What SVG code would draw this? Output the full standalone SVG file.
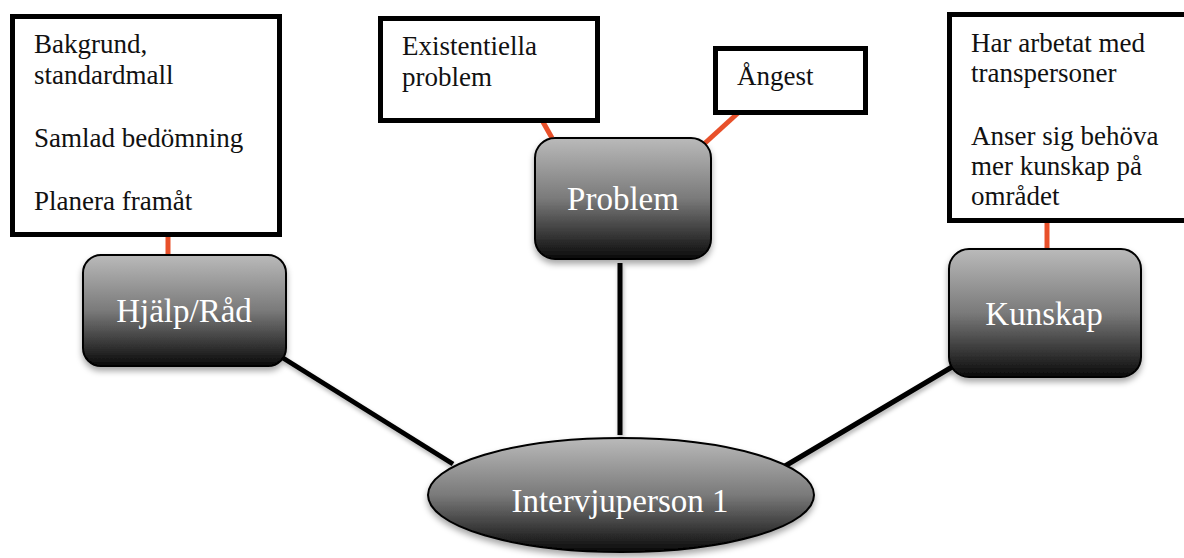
<svg xmlns="http://www.w3.org/2000/svg" width="1184" height="558" viewBox="0 0 1184 558">
<defs>
<linearGradient id="g" x1="0" y1="0" x2="0" y2="1">
<stop offset="0" stop-color="#bababa"/>
<stop offset="0.5" stop-color="#7a7a7a"/>
<stop offset="1" stop-color="#0a0a0a"/>
</linearGradient>
<filter id="sh" x="-20%" y="-20%" width="140%" height="150%">
<feDropShadow dx="0" dy="4" stdDeviation="3" flood-color="#000" flood-opacity="0.35"/>
</filter>
<filter id="lsh" filterUnits="userSpaceOnUse" x="0" y="0" width="1184" height="558">
<feDropShadow dx="1" dy="3" stdDeviation="2" flood-color="#000" flood-opacity="0.3"/>
</filter>
</defs>
<style>
.box{fill:#fff;stroke:#000;stroke-width:5}
.t{font-family:"Liberation Serif","Times New Roman",serif;font-size:27px;fill:#111}
.node{fill:url(#g);stroke:#000;stroke-width:2;filter:url(#sh)}
.nt{font-family:"Liberation Serif","Times New Roman",serif;font-size:33px;fill:#fff;text-anchor:middle}
.bl{stroke:#000;stroke-width:5;fill:none}
.or{stroke:#e8502a;stroke-width:5;fill:none}
</style>
<rect width="1184" height="558" fill="#fff"/>
<g id="connectors">
<g filter="url(#lsh)">
<line class="bl" x1="283" y1="358" x2="453" y2="464"/>
<line class="bl" x1="620" y1="263" x2="620" y2="435"/>
<line class="bl" x1="952" y1="367" x2="785" y2="466"/>
</g>
<line class="or" x1="168" y1="236" x2="168" y2="255"/>
<line class="or" x1="543" y1="122" x2="552" y2="138"/>
<line class="or" x1="738" y1="113" x2="704" y2="144"/>
<line class="or" x1="1047" y1="222" x2="1047" y2="249"/>
</g>
<g id="box-hjalp">
<rect class="box" x="12.5" y="16.5" width="267" height="218"/>
<text class="t" x="34" y="53">Bakgrund,</text>
<text class="t" x="34" y="84">standardmall</text>
<text class="t" x="34" y="147">Samlad bedömning</text>
<text class="t" x="34" y="210">Planera framåt</text>
</g>
<g id="box-existentiella">
<rect class="box" x="380.5" y="18.5" width="217" height="102"/>
<text class="t" x="402" y="55">Existentiella</text>
<text class="t" x="402" y="86">problem</text>
</g>
<g id="box-angest">
<rect class="box" x="715.5" y="48.5" width="150" height="64"/>
<text class="t" x="737" y="85">Ångest</text>
</g>
<g id="box-kunskap">
<rect class="box" x="949.5" y="14.5" width="260" height="206"/>
<text class="t" x="971" y="52">Har arbetat med</text>
<text class="t" x="971" y="82">transpersoner</text>
<text class="t" x="971" y="145">Anser sig behöva</text>
<text class="t" x="971" y="175">mer kunskap på</text>
<text class="t" x="971" y="205">området</text>
</g>
<g id="node-hjalp">
<rect class="node" x="83" y="255" width="203" height="111" rx="18"/>
<text class="nt" x="184" y="322">Hjälp/Råd</text>
</g>
<g id="node-problem">
<rect class="node" x="535" y="138" width="176" height="121" rx="20"/>
<text class="nt" x="623" y="210">Problem</text>
</g>
<g id="node-kunskap">
<rect class="node" x="949" y="249" width="192" height="128" rx="20"/>
<text class="nt" x="1044" y="325">Kunskap</text>
</g>
<g id="node-intervjuperson">
<ellipse class="node" cx="621" cy="495" rx="193" ry="57"/>
<text class="nt" x="620" y="512">Intervjuperson 1</text>
</g>
</svg>
